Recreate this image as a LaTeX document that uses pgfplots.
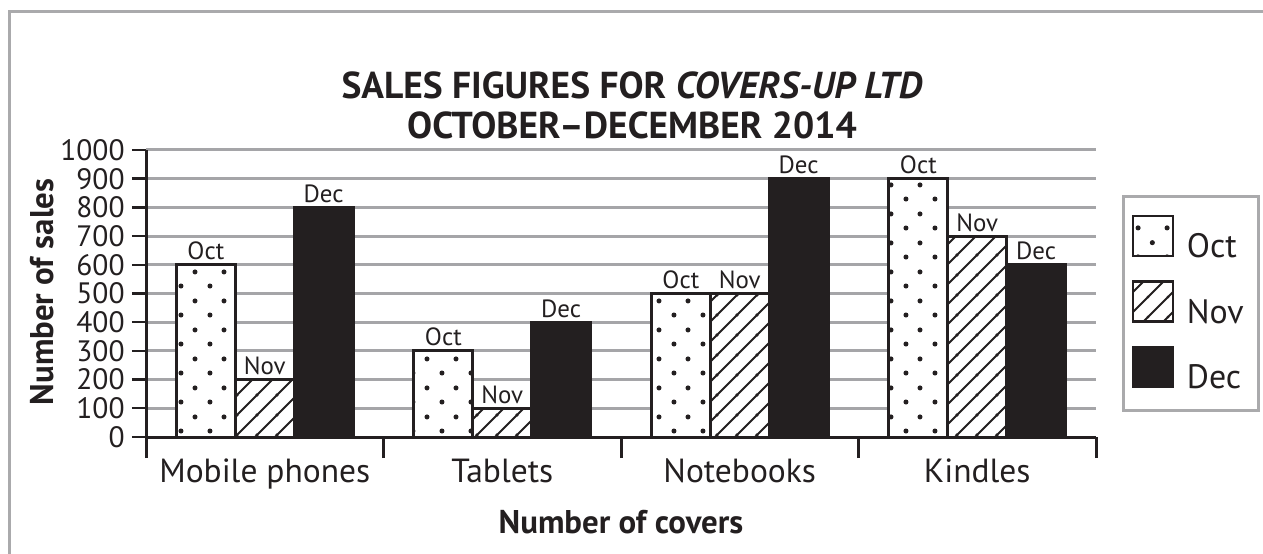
\documentclass[border=0pt]{standalone}
\usepackage{fontspec}
\setmainfont{PT Sans}
\usepackage{pgfplots}
\pgfplotsset{compat=1.18}
\usetikzlibrary{patterns.meta}

\definecolor{ink}{RGB}{35,31,32}
\definecolor{gridgray}{RGB}{165,165,168}
\definecolor{framegray}{RGB}{170,170,172}

% staggered dots for October
\pgfdeclarepattern{
  name=cdots, type=uncolored,
  bottom left={\pgfpoint{0bp}{0bp}},
  top right={\pgfpoint{14.5bp}{14.5bp}},
  tile size={\pgfpoint{14.5bp}{14.5bp}},
  code={
    \pgfpathcircle{\pgfpoint{3.6bp}{3.6bp}}{1.3bp}
    \pgfpathcircle{\pgfpoint{10.85bp}{10.85bp}}{1.3bp}
    \pgfusepath{fill}
  }
}
% diagonal hatching for November
\pgfdeclarepattern{
  name=chatch, type=uncolored,
  bottom left={\pgfpoint{0bp}{0bp}},
  top right={\pgfpoint{9.9bp}{9.9bp}},
  tile size={\pgfpoint{9.9bp}{9.9bp}},
  code={
    \pgfsetlinewidth{1bp}
    \pgfpathmoveto{\pgfpoint{-1bp}{-1bp}}\pgfpathlineto{\pgfpoint{10.9bp}{10.9bp}}
    \pgfpathmoveto{\pgfpoint{8.9bp}{-1bp}}\pgfpathlineto{\pgfpoint{10.9bp}{1bp}}
    \pgfpathmoveto{\pgfpoint{-1bp}{8.9bp}}\pgfpathlineto{\pgfpoint{1bp}{10.9bp}}
    \pgfusepath{stroke}
  }
}

\pgfplotstableread{
x oct nov dec
0 600 200 800
1 300 100 400
2 500 500 900
3 900 700 600
}\sales

\begin{document}
\begin{tikzpicture}
\useasboundingbox (0,0) rectangle (631.5bp,277bp);
\draw[framegray, line width=1.5bp] (4.5bp,-5bp) -- (4.5bp,271bp) -- (640bp,271bp);

\node[anchor=base, text=ink, font=\bfseries\fontsize{18.8}{19}\selectfont] at (316bp,227.5bp) {SALES FIGURES FOR \textit{COVERS-UP LTD}};
\node[anchor=base, text=ink, font=\bfseries\fontsize{18.8}{19}\selectfont] at (316bp,207.5bp) {OCTOBER--DECEMBER 2014};
\node[rotate=90, text=ink, font=\bfseries\fontsize{16.5}{17}\selectfont] at (21bp,131bp) {Number of sales};
\node[anchor=base, text=ink, font=\bfseries\fontsize{16.5}{17}\selectfont] at (310.5bp,10.5bp) {Number of covers};

\begin{axis}[
  at={(73bp,58.5bp)}, anchor=south west,
  scale only axis, width=475bp, height=143.5bp,
  xmin=-0.5, xmax=3.5, ymin=0, ymax=1000,
  axis x line=bottom, axis y line=left,
  axis line style={-, line width=1.5bp, ink},
  ybar, bar width=0.248,
  xtick={0,1,2,3},
  xticklabels={Mobile phones, Tablets, Notebooks, Kindles},
  minor xtick={-0.5,0.5,1.5,2.5,3.5},
  ytick={0,100,...,1000},
  tick align=outside,
  major tick length=7bp, minor tick length=10.5bp,
  major x tick style={draw=none},
  minor x tick style={line width=1.5bp, ink},
  y tick style={line width=1.2bp, ink},
  ymajorgrids, major grid style={line width=1.5bp, gridgray},
  /pgf/number format/assume math mode=true,
  yticklabel style={/pgf/number format/1000 sep={}, text=ink, inner xsep=3.5bp, font=\fontsize{14.8}{15}\selectfont},
  xticklabel style={anchor=base, yshift=-15.5bp, text=ink, font=\fontsize{16.8}{17}\selectfont},
  nodes near coords style={anchor=base, yshift=2.5bp, inner sep=0pt, text=ink, font=\fontsize{12.5}{13}\selectfont},
  legend style={at={(1.0274,0.8432)}, anchor=north west, draw=framegray, line width=1.5bp, fill=white,
    inner xsep=4bp, inner ysep=9bp, row sep=9.5bp,
    nodes={inner sep=0.5bp, text=ink},
    font=\fontsize{17}{18}\selectfont,
    /tikz/every odd column/.style={column sep=6bp}},
  legend cell align=left,
  legend image code/.code={\draw[#1, line width=1.2bp] (0bp,-4.5bp) rectangle (20bp,15.5bp);},
]
% white backing for the patterned bars
\addplot[forget plot, fill=white, draw=none, bar shift=-0.248] table[x=x, y=oct] {\sales};
\addplot[forget plot, fill=white, draw=none, bar shift=0] table[x=x, y=nov] {\sales};

\addplot[draw=ink, line width=1.5bp, pattern=cdots, pattern color=ink, bar shift=-0.248,
  nodes near coords={Oct}] table[x=x, y=oct] {\sales};
\addplot[draw=ink, line width=1.5bp, pattern=chatch, pattern color=ink, bar shift=0,
  nodes near coords={Nov}] table[x=x, y=nov] {\sales};
\addplot[draw=ink, line width=1.5bp, fill=ink, bar shift=0.248,
  nodes near coords={Dec}] table[x=x, y=dec] {\sales};
\legend{Oct\hspace*{3bp}, Nov\hspace*{3bp}, Dec\hspace*{3bp}}
\end{axis}
\end{tikzpicture}
\end{document}
